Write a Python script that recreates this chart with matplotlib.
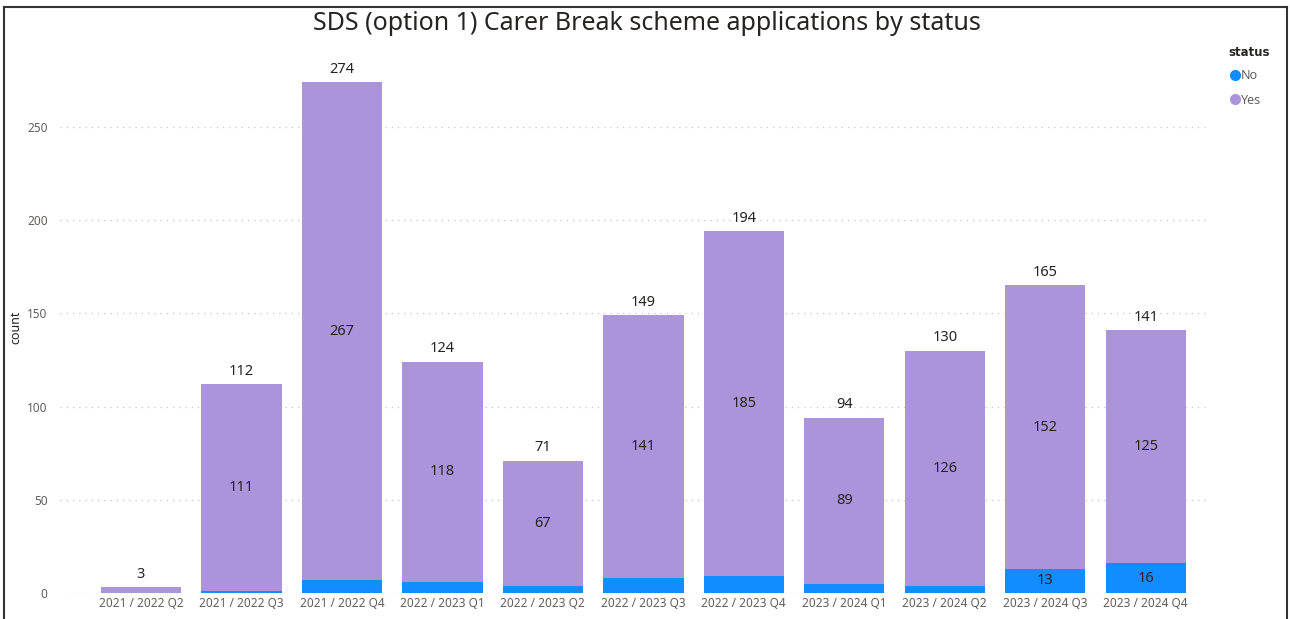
import matplotlib
matplotlib.use("Agg")
import matplotlib.pyplot as plt
from matplotlib.lines import Line2D
import numpy as np

# ---------------------------------------------------------------------------
# Data
# ---------------------------------------------------------------------------
quarters = [
    "2021 / 2022 Q2", "2021 / 2022 Q3", "2021 / 2022 Q4", "2022 / 2023 Q1",
    "2022 / 2023 Q2", "2022 / 2023 Q3", "2022 / 2023 Q4", "2023 / 2024 Q1",
    "2023 / 2024 Q2", "2023 / 2024 Q3", "2023 / 2024 Q4",
]
no_counts = [0, 1, 7, 6, 4, 8, 9, 5, 4, 13, 16]
yes_counts = [3, 111, 267, 118, 67, 141, 185, 89, 126, 152, 125]

# Power BI-ish palette
BLUE = "#118DFF"
PURPLE = "#AC94DB"
DARK = "#252423"
GREY = "#605E5C"
FONT = ["Noto Sans", "DejaVu Sans"]

plt.rcParams["font.family"] = FONT

W, H = 1290, 619
fig = plt.figure(figsize=(W / 100, H / 100), dpi=100)

# axes placed in pixels: x 60..1210, y 50..593
ax = fig.add_axes([60 / W, (H - 593) / H, (1210 - 60) / W, (593 - 50) / H])

x = np.arange(len(quarters))
no = np.array(no_counts)
yes = np.array(yes_counts)
total = no + yes

ax.bar(x, no, width=0.8, color=BLUE, zorder=3)
ax.bar(x, yes, width=0.8, bottom=no, color=PURPLE, zorder=3)

# segment labels (only where there's room)
for xi, n, y, t in zip(x, no, yes, total):
    if n >= 10:
        ax.text(xi, n / 2, str(n), ha="center", va="center",
                fontsize=10.5, color=DARK, zorder=4)
    if y >= 10:
        ax.text(xi, n + y / 2, str(y), ha="center", va="center",
                fontsize=10.5, color=DARK, zorder=4)
    ax.text(xi, t + 3, str(t), ha="center", va="bottom",
            fontsize=10.5, color=DARK, zorder=4)

ax.set_xlim(-0.806, 10.64)
ax.set_ylim(0, 291.3)
ax.set_yticks([0, 50, 100, 150, 200, 250])
ax.set_xticks(x)
ax.set_xticklabels(quarters, fontsize=8.5, color=GREY)
ax.tick_params(axis="y", labelsize=8.5, labelcolor=GREY, length=0, pad=9)
ax.tick_params(axis="x", length=0, pad=3)
for s in ax.spines.values():
    s.set_visible(False)
ax.grid(axis="y", linestyle=(0, (1, 4)), color="#C8C6C4", linewidth=0.9,
        zorder=0)
ax.set_ylabel("count", fontsize=9, color=DARK, fontweight="medium")
ax.yaxis.set_label_coords(-38 / 1150, 0.49)

fig.text(647 / W, 1 - 24 / H,
         "SDS (option 1) Carer Break scheme applications by status",
         ha="center", va="center", fontsize=18, color=DARK,
         fontweight="medium")

# legend
fig.text(1228 / W, 1 - 53 / H, "status", fontsize=8.5, fontweight="bold",
         color=DARK, ha="left", va="center", family="DejaVu Sans")
handles = [
    Line2D([], [], marker="o", linestyle="", color=BLUE, markersize=7),
    Line2D([], [], marker="o", linestyle="", color=PURPLE, markersize=7),
]
fig.legend(handles, ["No", "Yes"], loc="upper left",
           bbox_to_anchor=(1222 / W, 1 - 63 / H), frameon=False,
           fontsize=9, handletextpad=0.0, labelspacing=0.9,
           handlelength=1.0, borderpad=0, labelcolor=GREY)

# outer frame
frame = dict(color="#333333", linewidth=1.5, transform=fig.transFigure)
fig.add_artist(Line2D([4 / W, 4 / W], [0, 1 - 7 / H], **frame))
fig.add_artist(Line2D([4 / W, 1287 / W], [1 - 7 / H, 1 - 7 / H], **frame))
fig.add_artist(Line2D([1287 / W, 1287 / W], [0, 1 - 7 / H], **frame))

fig.savefig("out.png", dpi=100)
